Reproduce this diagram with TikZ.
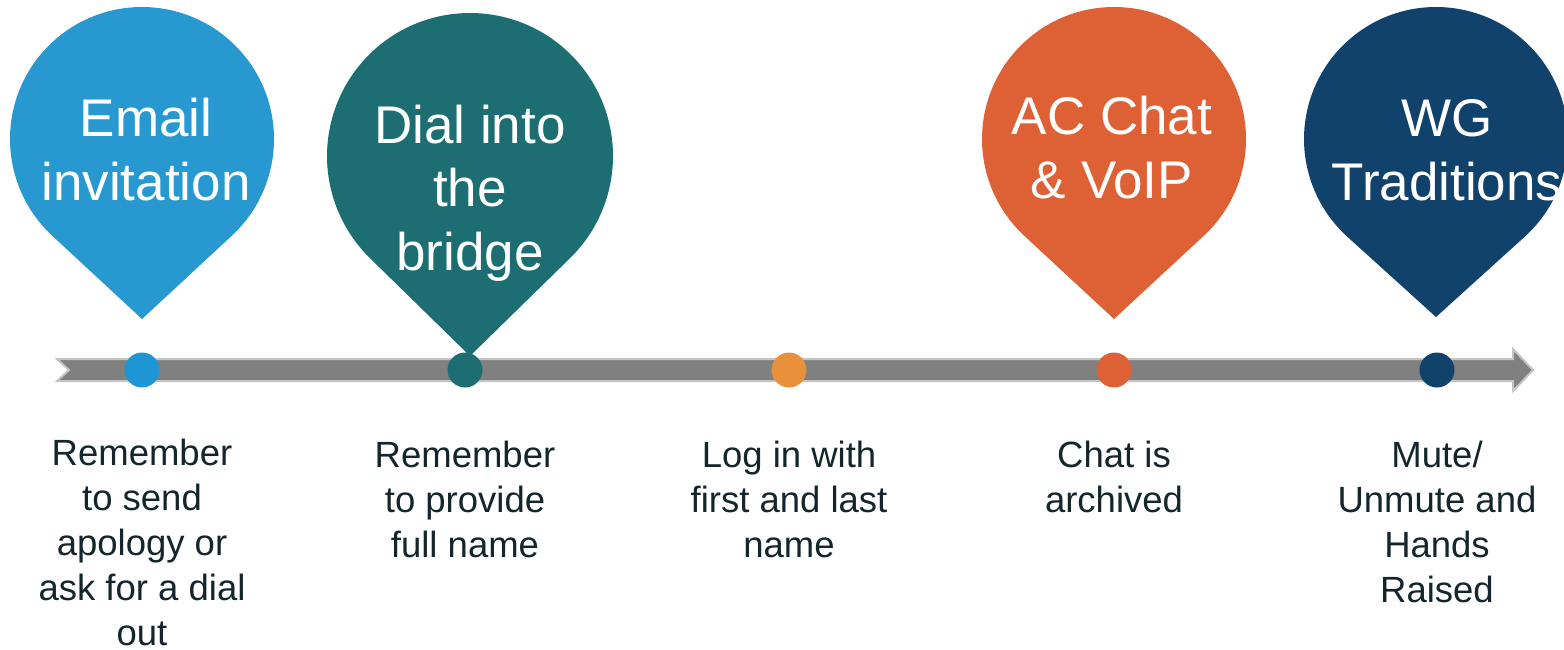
\documentclass[tikz,border=0pt]{standalone}
\usepackage{fontspec}
\setmainfont{Liberation Sans}
\definecolor{cblue}{HTML}{2899D0}
\definecolor{cbluedot}{HTML}{1E96D3}
\definecolor{cteal}{HTML}{1C6E72}
\definecolor{corange}{HTML}{E8903B}
\definecolor{cred}{HTML}{DD6135}
\definecolor{cnavy}{HTML}{10426B}
\definecolor{ctext}{HTML}{14252B}
\definecolor{cbar}{HTML}{808080}
\definecolor{cbaredge}{HTML}{C4C4C4}
\newcommand\droppin[5]{% cx cy r tipy color
  \pgfmathsetmacro\pinA{acos(#3/(#4-#2))}
  \fill[#5] (#1,#4) -- ({#1+#3*cos(90-\pinA)},{#2+#3*sin(90-\pinA)})
    arc[start angle=90-\pinA, end angle=-270+\pinA, radius=#3] -- cycle;
}
\tikzset{
  pintext/.style={text=white, align=center, anchor=base, inner sep=0pt,
    font=\fontsize{53}{63.5}\selectfont},
  steptext/.style={text=ctext, align=center, anchor=base, inner sep=0pt,
    font=\fontsize{36.5}{45}\selectfont},
  dot/.style={circle, fill=#1, minimum size=35pt, inner sep=0pt},
}
\begin{document}
\begin{tikzpicture}[x=1pt,y=-1pt]
\useasboundingbox (0,0) rectangle (1564,649);
% timeline arrow
\coordinate (tstart) at (57,370);
\coordinate (tend) at (1533,370);
\fill[cbar, draw=cbaredge, line width=2pt, line join=miter]
  (57,359) -- (1513,359) -- (1513,349) -- (tend) -- (1513,391) -- (1513,381)
  -- (57,381) -- (69,370) -- cycle;
% pins
\droppin{142}{139}{132}{319}{cblue}
\droppin{470}{156}{143}{356}{cteal}
\droppin{1114}{139}{132}{319}{cred}
\droppin{1436}{139}{132}{317}{cnavy}
% pin texts (anchor = baseline of last line)
\node[pintext] (p1) at (146,200) {Email\\invitation};
\node[pintext] (p2) at (470,270) {Dial into\\the\\bridge};
\node[pintext] (p3) at (1112,198) {AC Chat\\\& VoIP};
\node[pintext] (p4) at (1447,200) {WG\\Traditions};
% dots
\node[dot=cbluedot] (d1) at (142,370) {};
\node[dot=cteal] (d2) at (465,370) {};
\node[dot=corange] (d3) at (789,370) {};
\node[dot=cred] (d4) at (1114,370) {};
\node[dot=cnavy] (d5) at (1437,370) {};
% step texts (anchor = baseline of last line)
\node[steptext, text depth=0pt] (s1) at (142,645) {Remember\\to send\\apology or\\ask for a dial\\out};
\node[steptext] (s2) at (465,557) {Remember\\to provide\\full name};
\node[steptext] (s3) at (789,557) {Log in with\\first and last\\name};
\node[steptext] (s4) at (1114,512) {Chat is\\archived};
\node[steptext] (s5) at (1437,602) {Mute/\\Unmute and\\Hands\\Raised};
\end{tikzpicture}
\end{document}
